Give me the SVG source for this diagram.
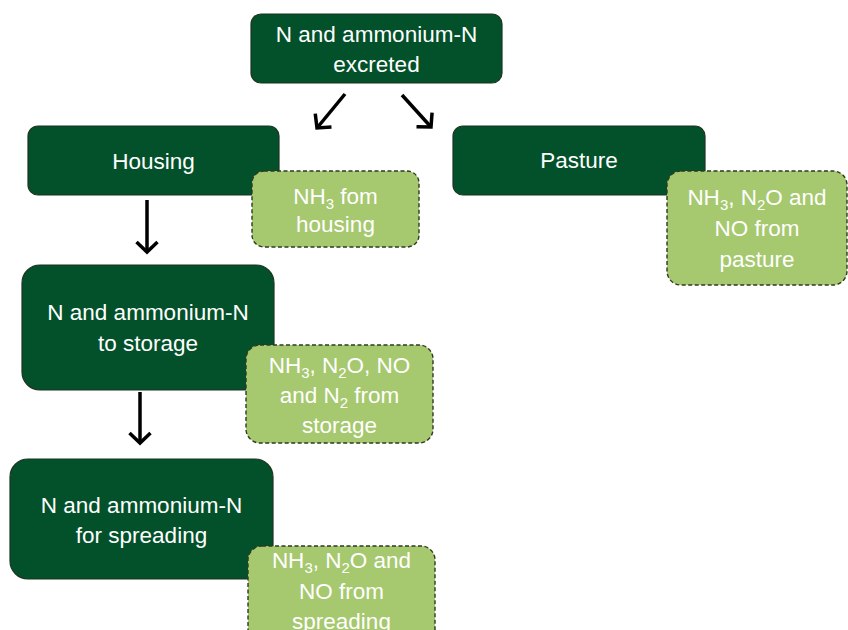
<svg xmlns="http://www.w3.org/2000/svg" width="848" height="630" viewBox="0 0 848 630">
<style>
.main{fill:#03512a;stroke:#1c3520;stroke-width:1.2}
.emis{fill:#a6c86e;stroke:#2e3a22;stroke-width:1.4;stroke-dasharray:4 2.5}
.t{font-family:"Liberation Sans",Arial,sans-serif;font-size:22.5px;fill:#ffffff;text-anchor:middle}
.arrow{stroke:#000;stroke-width:3.5;fill:none}
</style>
<defs>
<marker id="ah" markerUnits="userSpaceOnUse" markerWidth="30" markerHeight="30" viewBox="-15 -15 30 30" refX="0" refY="0" orient="auto">
<path d="M-10,-10.5 L0,0 L-10,10.5" fill="none" stroke="#000" stroke-width="3.5"/>
</marker>
</defs>
<rect width="848" height="630" fill="#ffffff"/>
<g id="connectors">
<path class="arrow" d="M345,94 L317,128" marker-end="url(#ah)"/>
<path class="arrow" d="M402,95 L431,127" marker-end="url(#ah)"/>
<path class="arrow" d="M147,200 L147,252" marker-end="url(#ah)"/>
<path class="arrow" d="M140,392 L140,443" marker-end="url(#ah)"/>
</g>
<g id="excreted">
<rect class="main" x="251" y="14" width="251" height="69" rx="10"/>
<text class="t" x="376.5" y="42">N and ammonium-N</text>
<text class="t" x="376.5" y="72">excreted</text>
</g>
<g id="housing">
<rect class="main" x="28" y="126" width="251" height="69" rx="10"/>
<text class="t" x="153.5" y="169">Housing</text>
</g>
<g id="pasture">
<rect class="main" x="453" y="126" width="252" height="69" rx="10"/>
<text class="t" x="579" y="168">Pasture</text>
</g>
<g id="storage">
<rect class="main" x="22" y="265" width="252" height="125" rx="18"/>
<text class="t" x="148" y="320">N and ammonium-N</text>
<text class="t" x="148" y="351">to storage</text>
</g>
<g id="spreading">
<rect class="main" x="10" y="459" width="263" height="120" rx="18"/>
<text class="t" x="141.5" y="513">N and ammonium-N</text>
<text class="t" x="141.5" y="543">for spreading</text>
</g>
<g id="housing-emissions">
<rect class="emis" x="252" y="171" width="167" height="76" rx="12"/>
<text class="t" x="335.5" y="204">NH<tspan font-size="15" dy="5">3</tspan><tspan dy="-5"> fom</tspan></text>
<text class="t" x="335.5" y="232">housing</text>
</g>
<g id="pasture-emissions">
<rect class="emis" x="667" y="171" width="180" height="114" rx="14"/>
<text class="t" x="757" y="205">NH<tspan font-size="15" dy="5">3</tspan><tspan dy="-5">, N</tspan><tspan font-size="15" dy="5">2</tspan><tspan dy="-5">O and</tspan></text>
<text class="t" x="757" y="236">NO from</text>
<text class="t" x="757" y="267">pasture</text>
</g>
<g id="storage-emissions">
<rect class="emis" x="246" y="345" width="187" height="98" rx="14"/>
<text class="t" x="339.5" y="373">NH<tspan font-size="15" dy="5">3</tspan><tspan dy="-5">, N</tspan><tspan font-size="15" dy="5">2</tspan><tspan dy="-5">O, NO</tspan></text>
<text class="t" x="339.5" y="403">and N<tspan font-size="15" dy="5">2</tspan><tspan dy="-5"> from</tspan></text>
<text class="t" x="339.5" y="433">storage</text>
</g>
<g id="spreading-emissions">
<rect class="emis" x="248" y="546" width="187" height="100" rx="14"/>
<text class="t" x="341.5" y="568">NH<tspan font-size="15" dy="5">3</tspan><tspan dy="-5">, N</tspan><tspan font-size="15" dy="5">2</tspan><tspan dy="-5">O and</tspan></text>
<text class="t" x="341.5" y="599">NO from</text>
<text class="t" x="341.5" y="629">spreading</text>
</g>
</svg>
